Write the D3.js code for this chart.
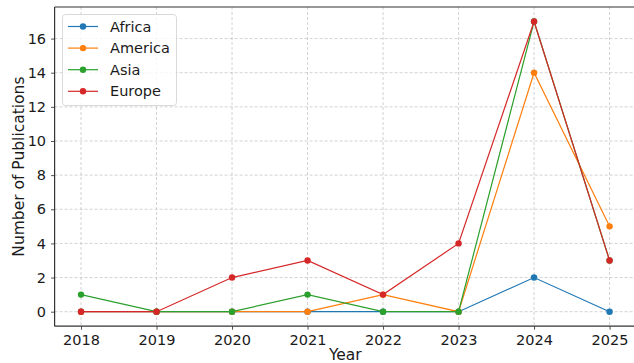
<!DOCTYPE html>
<html>
<head>
<meta charset="utf-8">
<script src="https://cdn.jsdelivr.net/npm/d3@7"></script>
<style>
  body { margin: 0; background: #fff; }
  svg { display: block; font-family: "DejaVu Sans", sans-serif; }
</style>
</head>
<body>
<div id="chart"></div>
<script>
// data
var years = [2018, 2019, 2020, 2021, 2022, 2023, 2024, 2025];
var africa  = [0, 0, 0, 0, 0, 0, 2, 0];
var america = [0, 0, 0, 0, 1, 0, 14, 5];
var asia    = [1, 0, 0, 1, 0, 0, 17, 3];
var europe  = [0, 0, 2, 3, 1, 4, 17, 3];
var yTicks = [0, 2, 4, 6, 8, 10, 12, 14, 16];

var series = [
  { name: "Africa", values: africa, color: "#1f77b4" },
  { name: "America", values: america, color: "#ff7f0e" },
  { name: "Asia", values: asia, color: "#2ca02c" },
  { name: "Europe", values: europe, color: "#d62728" }
];

var W = 634, H = 363;
var pLeft = 54.6, pRight = 636, pTop = 7, pBottom = 326.2;

var svg = d3.select("#chart").append("svg")
  .attr("width", W).attr("height", H);

var x = d3.scaleLinear().domain([2017.65, 2025.35]).range([pLeft, pRight]);
var y = d3.scaleLinear().domain([-0.85, 17.85]).range([pBottom, pTop]);

// grid
var grid = svg.append("g");
grid.selectAll(".gx").data(years).enter().append("line")
  .attr("x1", d => x(d)).attr("x2", d => x(d))
  .attr("y1", pTop).attr("y2", pBottom)
  .attr("stroke", "#b0b0b0").attr("stroke-opacity", 0.7)
  .attr("stroke-width", 0.8).attr("stroke-dasharray", "3,2");
grid.selectAll(".gy").data(yTicks).enter().append("line")
  .attr("x1", pLeft).attr("x2", pRight)
  .attr("y1", d => y(d)).attr("y2", d => y(d))
  .attr("stroke", "#b0b0b0").attr("stroke-opacity", 0.7)
  .attr("stroke-width", 0.8).attr("stroke-dasharray", "3,2");

// axes
var xAxis = svg.append("g")
  .attr("transform", "translate(0," + pBottom + ")")
  .call(d3.axisBottom(x).tickValues(years).tickFormat(d3.format("d")).tickSizeOuter(0).tickSize(3.5).tickPadding(5));
var yAxis = svg.append("g")
  .attr("transform", "translate(" + pLeft + ",0)")
  .call(d3.axisLeft(y).tickValues(yTicks).tickSizeOuter(0).tickSize(3.5).tickPadding(5));
[xAxis, yAxis].forEach(function (a) {
  a.select(".domain").remove();
  a.selectAll("line").attr("stroke", "#222").attr("stroke-width", 0.8);
  a.selectAll("text").attr("fill", "#1a1a1a").style("font-size", "14.5px")
    .style("font-family", "DejaVu Sans, sans-serif");
});

// spines
svg.append("line").attr("x1", pLeft).attr("x2", pLeft).attr("y1", pTop).attr("y2", pBottom)
  .attr("stroke", "#333").attr("stroke-width", 1.2);
svg.append("line").attr("x1", pLeft).attr("x2", pRight).attr("y1", pBottom).attr("y2", pBottom)
  .attr("stroke", "#333").attr("stroke-width", 1.2);
svg.append("line").attr("x1", pLeft).attr("x2", pRight).attr("y1", pTop).attr("y2", pTop)
  .attr("stroke", "#333").attr("stroke-width", 1.2);

// lines
var line = d3.line().x((d, i) => x(years[i])).y(d => y(d));
series.forEach(function (s) {
  var g = svg.append("g");
  g.append("path").datum(s.values)
    .attr("d", line).attr("fill", "none")
    .attr("stroke", s.color).attr("stroke-width", 1.2);
  g.selectAll("circle").data(s.values).enter().append("circle")
    .attr("cx", (d, i) => x(years[i])).attr("cy", d => y(d))
    .attr("r", 3.2).attr("fill", s.color);
});

// labels
svg.append("text").attr("x", (pLeft + pRight) / 2).attr("y", 360)
  .attr("text-anchor", "middle").style("font-size", "15.5px").attr("fill", "#1a1a1a")
  .text("Year");
svg.append("text").attr("transform", "translate(24," + ((pTop + pBottom) / 2) + ") rotate(-90)")
  .attr("text-anchor", "middle").style("font-size", "15.5px").attr("fill", "#1a1a1a")
  .text("Number of Publications");

// legend
var lg = svg.append("g");
lg.append("rect").attr("x", 62.5).attr("y", 14.5).attr("width", 114).attr("height", 91)
  .attr("rx", 3).attr("fill", "#fff").attr("fill-opacity", 0.8)
  .attr("stroke", "#d0d0d0").attr("stroke-width", 0.8);
series.forEach(function (s, i) {
  var yy = 26.5 + i * 21.6;
  lg.append("line").attr("x1", 68).attr("x2", 98).attr("y1", yy).attr("y2", yy)
    .attr("stroke", s.color).attr("stroke-width", 1.2);
  lg.append("circle").attr("cx", 83).attr("cy", yy).attr("r", 3.2).attr("fill", s.color);
  lg.append("text").attr("x", 110).attr("y", yy + 5).style("font-size", "14.5px")
    .attr("fill", "#1a1a1a").text(s.name);
});
</script>
</body>
</html>
